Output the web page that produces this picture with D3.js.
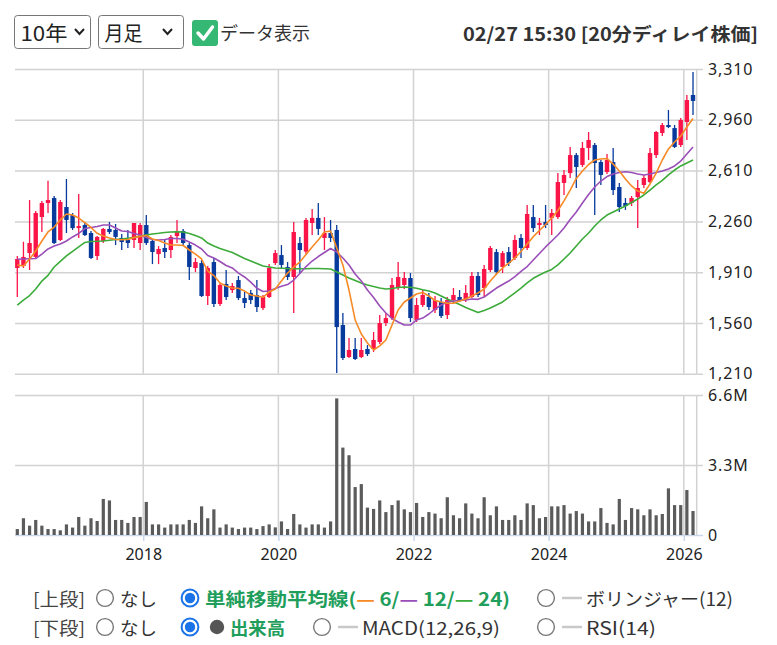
<!DOCTYPE html>
<html>
<head>
<meta charset="utf-8">
<script src="https://cdn.jsdelivr.net/npm/d3@7.9.0/dist/d3.min.js"></script>
<style>
  html, body { margin: 0; padding: 0; background: #fff; }
  svg { display: block; font-family: "Noto Sans CJK JP", "Noto Sans", sans-serif; }
</style>
</head>
<body>
<svg id="chart" width="777" height="645"></svg>
<script>
// monthly bars, oldest first (index 0 .. 110)
const opens = [1939,1953,2042,2015,2290,2387,2421,2132,2359,2304, 2214,2235,2180,2022,2125,2208,2201,2146,2132,2132,
  2111,2235,2125,2035,2077,2063,2159,2194,2097,1939, 1973,1746,1980,1691,1829,1787,1856,1732,1767,1753,
  1663,1739,1973,2028,1946,1877,2111,2052,2249,2284, 2146,2180,2201,1546,1326,1381,1326,1381,1381,1429,
  1560,1594,1808,1822,1870,1581,1684,1739,1650,1705, 1615,1718,1739,1718,1739,1884,1801,1925,2049,1946,
  2049,2008,2146,2077,2290,2235,2256,2284,2290,2525, 2593,2717,2649,2766,2786,2669,2600,2669,2497,2387,
  2387,2428,2511,2531,2717,2869,2924,2903,2786,2945, 3131];
const highs = [2022,2120,2407,2332,2400,2540,2435,2407,2552,2318, 2449,2249,2194,2159,2214,2256,2242,2173,2201,2249,
  2249,2304,2132,2090,2132,2166,2270,2208,2111,2008, 1994,1953,2008,1836,1925,1836,1884,1774,1787,1856,
  1753,1966,2063,2097,1980,2256,2153,2284,2346,2387, 2290,2270,2235,1629,1457,1457,1457,1408,1498,1615,
  1629,1870,1980,1911,1904,1732,1787,1767,1746,1732, 1739,1801,1787,1822,1911,1911,1960,2090,2070,2056,
  2084,2166,2173,2373,2373,2284,2373,2346,2593,2614, 2773,2731,2807,2876,2800,2683,2724,2766,2525,2421,
  2435,2545,2580,2766,2883,2938,3028,2924,2972,3131, 3289];
const lows = [1739,1939,1925,2008,2187,2318,2104,2125,2180,2201, 2146,2159,2001,1994,2111,2173,2097,2063,2077,2077,
  2063,2097,1966,1966,2008,2008,2111,2097,1856,1911, 1739,1684,1670,1677,1718,1767,1718,1663,1691,1636,
  1650,1732,1960,1939,1856,1629,1904,2035,2166,2166, 2063,2118,1215,1305,1319,1305,1319,1333,1360,1415,
  1539,1581,1787,1794,1567,1567,1670,1650,1629,1594, 1587,1698,1705,1705,1732,1739,1739,1911,1891,1904,
  1953,1994,2008,2063,2187,2166,2214,2166,2277,2442, 2559,2490,2635,2683,2304,2511,2587,2442,2325,2339,
  2366,2214,2490,2525,2697,2848,2903,2766,2773,2821, 2993];
const closes = [2001,2015,2111,2318,2387,2407,2111,2394,2270,2214, 2228,2166,2008,2153,2208,2187,2153,2118,2111,2249,
  2235,2111,2049,2070,2049,2153,2194,2111,1946,1980, 1746,1939,1691,1822,1739,1815,1732,1698,1718,1670,
  1739,1939,2042,1960,1877,2187,2063,2270,2284,2208, 2180,2146,1532,1319,1374,1312,1374,1346,1443,1560,
  1594,1822,1877,1870,1594,1684,1753,1670,1718,1608, 1718,1753,1718,1767,1884,1753,1932,2077,1911,2042,
  1973,2132,2077,2311,2214,2249,2235,2318,2531,2580, 2717,2635,2766,2821,2662,2580,2683,2476,2359,2366,
  2421,2490,2559,2731,2876,2924,2910,2773,2959,3096, 3090];
// volume in millions of shares
const volumes = [0.28,0.79,0.44,0.71,0.44,0.28,0.28,0.22,0.50,0.35, 0.85,0.44,0.79,0.66,1.70,1.63,0.71,0.71,0.57,0.85,
  0.85,1.56,0.50,0.50,0.35,0.50,0.50,0.50,0.71,0.57, 1.35,0.79,1.21,0.35,0.50,0.35,0.28,0.35,0.35,0.28,
  0.42,0.50,0.36,0.64,0.28,0.99,0.50,0.35,0.50,0.50, 0.35,0.64,6.44,4.12,3.76,2.26,2.40,1.29,1.23,1.63,
  1.08,1.41,1.63,1.21,1.08,1.51,0.85,1.08,1.01,0.79, 1.78,0.93,0.79,1.49,1.01,0.79,1.78,0.93,1.35,0.71,
  0.71,0.93,0.71,1.49,1.41,0.79,0.85,1.35,1.35,1.41, 1.01,1.13,1.01,0.64,0.64,1.27,0.57,0.50,1.70,0.71,
  1.27,1.21,0.93,1.21,0.93,0.99,2.20,1.41,1.41,2.12, 1.13];
// moving averages
const ma6 = [1960,1953,2001,2056,2125,2187,2221,2270,2311,2304, 2283,2252,2218,2178,2159,2146,2135,2134,2135,2149,
  2157,2163,2139,2128,2111,2097,2097,2094,2063,2035, 2001,1918,1887,1836,1815,1801,1799,1780,1753,1746,
  1737,1774,1794,1849,1904,1946,1980,2032,2084,2132, 2187,2194,2077,1960,1787,1581,1484,1422,1374,1402,
  1443,1546,1650,1705,1732,1760,1770,1746,1715,1705, 1696,1696,1712,1725,1746,1767,1794,1849,1898,1939,
  1973,2008,2053,2104,2155,2197,2239,2283,2335,2401, 2476,2556,2607,2652,2683,2690,2693,2655,2607,2552,
  2504,2469,2454,2518,2593,2683,2759,2807,2848,2910, 2969];
const ma12 = [1999,2001,2003,2004,2035,2070,2091,2104,2125,2153, 2177,2211,2218,2225,2235,2235,2215,2194,2190,2177,
  2166,2149,2135,2132,2135,2142,2142,2137,2118,2097, 2070,2025,2008,1984,1956,1939,1904,1877,1842,1799,
  1777,1780,1798,1813,1825,1856,1901,1949,1987,2018, 2046,2073,2049,2008,1960,1898,1849,1787,1736,1677,
  1629,1591,1567,1546,1546,1581,1594,1622,1656,1684, 1705,1712,1715,1718,1725,1723,1739,1770,1801,1825,
  1849,1880,1915,1949,1994,2039,2084,2125,2166,2215, 2273,2325,2387,2445,2497,2538,2569,2587,2597,2602,
  2597,2587,2580,2587,2597,2607,2621,2642,2676,2724, 2773];
const ma24 = [1684,1718,1749,1794,1849,1888,1946,1984,2022,2053, 2084,2115,2122,2123,2125,2130,2135,2139,2144,2149,
  2159,2166,2173,2178,2184,2187,2189,2187,2177,2163, 2146,2111,2091,2073,2060,2046,2025,2004,1987,1970,
  1953,1946,1939,1937,1935,1934,1934,1934,1935,1935, 1934,1932,1911,1891,1870,1853,1836,1822,1811,1801,
  1794,1798,1805,1808,1806,1799,1789,1780,1767,1746, 1725,1707,1687,1667,1650,1632,1646,1663,1684,1705,
  1736,1767,1801,1836,1868,1891,1911,1929,1960,2001, 2042,2091,2139,2180,2228,2270,2304,2325,2345,2366,
  2390,2414,2442,2476,2511,2542,2580,2614,2642,2662, 2683];

const yearLabels = ['2018', '2020', '2022', '2024', '2026'];
const yearStarts = [20.5, 42.5, 64.5, 86.5, 108.5]; // bar-index boundary where each year begins
const priceTicks = [1210, 1560, 1910, 2260, 2610, 2960, 3310];
const volumeTicks = [0, 3.3, 6.6];
const volumeTickLabels = ['0', '3.3M', '6.6M'];

const UP = '#fa1448';
const DOWN = '#063a9c';
const GRID = '#d2d2d2';
const GREEN_TEXT = '#1f9e5c';

const svg = d3.select('#chart');

const plotLeft = 15;
const plotRight = 696.7;
const gridEnd = 703;
const priceTop = 69;
const priceBottom = 373.8;
const volTop = 395;
const volBottom = 535;

const x = d3.scaleLinear().domain([-0.374, 110.6]).range([plotLeft, plotRight]);
const y = d3.scaleLinear().domain([1210, 3310]).range([priceBottom, priceTop]);
const yv = d3.scaleLinear().domain([0, 6.6]).range([volBottom, volTop]);

function styleAxisText(a) {
  a.selectAll('text')
    .attr('font-family', 'Noto Sans')
    .attr('font-size', 16)
    .attr('letter-spacing', 0.9)
    .attr('fill', '#222');
}

function drawToolbar() {
  const g = svg.append('g');
  const selects = [
    { x: 14.5, w: 76, label: '10年', chev: 75, len: 47 },
    { x: 98.5, w: 85, label: '月足', chev: 163, len: 38 },
  ];
  selects.forEach((s) => {
    g.append('rect')
      .attr('x', s.x).attr('y', 15.5).attr('width', s.w).attr('height', 33)
      .attr('rx', 3).attr('fill', '#fff').attr('stroke', '#767676');
    g.append('text')
      .attr('x', s.x + 6).attr('y', 32).attr('dominant-baseline', 'central')
      .attr('font-size', 20).attr('fill', '#222')
      .attr('textLength', s.len).attr('lengthAdjust', 'spacingAndGlyphs')
      .text(s.label);
    g.append('path')
      .attr('d', `M${s.chev},29 L${s.chev + 4.5},34 L${s.chev + 9},29`)
      .attr('fill', 'none').attr('stroke', '#222').attr('stroke-width', 2);
  });

  g.append('rect')
    .attr('x', 192).attr('y', 20).attr('width', 26).attr('height', 26)
    .attr('rx', 3).attr('fill', '#34b874');
  g.append('path')
    .attr('d', 'M198,33 L203.5,39 L212.5,27')
    .attr('fill', 'none').attr('stroke', '#fff').attr('stroke-width', 3.5)
    .attr('stroke-linecap', 'round').attr('stroke-linejoin', 'round');
  g.append('text')
    .attr('x', 220).attr('y', 32).attr('dominant-baseline', 'central')
    .attr('font-size', 18).attr('fill', '#333').text('データ表示');

  g.append('text')
    .attr('x', 758).attr('y', 33).attr('dominant-baseline', 'central')
    .attr('text-anchor', 'end').attr('font-size', 18).attr('font-weight', 700)
    .attr('fill', '#333')
    .attr('textLength', 295).attr('lengthAdjust', 'spacingAndGlyphs')
    .text('02/27 15:30 [20分ディレイ株価]');
}

function drawPricePanel() {
  const g = svg.append('g');

  // horizontal gridlines + right labels
  g.append('g')
    .attr('transform', `translate(${gridEnd},0)`)
    .call(d3.axisRight(y).tickValues(priceTicks).tickSize(-(gridEnd - plotLeft))
      .tickPadding(5).tickFormat(d3.format(',')))
    .call((a) => a.select('.domain').remove())
    .call((a) => a.selectAll('line').attr('stroke', GRID).attr('stroke-width', 1.5))
    .call(styleAxisText);

  // vertical year gridlines
  g.append('g')
    .selectAll('line')
    .data(yearStarts)
    .join('line')
    .attr('x1', (d) => x(d)).attr('x2', (d) => x(d))
    .attr('y1', priceTop).attr('y2', priceBottom)
    .attr('stroke', GRID).attr('stroke-width', 1.5);

  g.append('line')
    .attr('x1', plotRight).attr('x2', plotRight)
    .attr('y1', priceTop).attr('y2', priceBottom)
    .attr('stroke', GRID).attr('stroke-width', 1.5);

  const bars = opens.map((o, i) => ({ i, o, h: highs[i], l: lows[i], c: closes[i] }));
  const color = (d) => (d.c >= d.o ? UP : DOWN);

  const candles = g.append('g').selectAll('g').data(bars).join('g');
  candles.append('line')
    .attr('x1', (d) => x(d.i)).attr('x2', (d) => x(d.i))
    .attr('y1', (d) => y(d.h)).attr('y2', (d) => y(d.l))
    .attr('stroke', color).attr('stroke-width', 1.3);
  candles.append('rect')
    .attr('x', (d) => x(d.i) - 2.2)
    .attr('y', (d) => y(Math.max(d.o, d.c)))
    .attr('width', 4.4)
    .attr('height', (d) => Math.max(1.5, y(Math.min(d.o, d.c)) - y(Math.max(d.o, d.c))))
    .attr('fill', color);

  svg.append('clipPath').attr('id', 'price-clip')
    .append('rect').attr('x', plotLeft).attr('y', priceTop)
    .attr('width', plotRight - plotLeft).attr('height', priceBottom - priceTop);

  const line = d3.line().x((d, i) => x(i)).y((d) => y(d));
  const lines = g.append('g').attr('clip-path', 'url(#price-clip)');
  [[ma24, '#3cab3a'], [ma12, '#9a4fb8'], [ma6, '#f68a26']].forEach(([values, stroke]) => {
    lines.append('path')
      .attr('d', line(values))
      .attr('fill', 'none').attr('stroke', stroke).attr('stroke-width', 1.6)
      .attr('stroke-linejoin', 'round');
  });
}

function drawVolumePanel() {
  const g = svg.append('g');

  g.append('g')
    .attr('transform', `translate(${gridEnd},0)`)
    .call(d3.axisRight(yv).tickValues(volumeTicks).tickSize(-(gridEnd - plotLeft))
      .tickPadding(5).tickFormat((d, i) => volumeTickLabels[i]))
    .call((a) => a.select('.domain').remove())
    .call((a) => a.selectAll('line').attr('stroke', (d) => (d === 0 ? '#c9d7ec' : GRID)).attr('stroke-width', 1.5))
    .call(styleAxisText);

  g.append('g')
    .selectAll('line')
    .data(yearStarts)
    .join('line')
    .attr('x1', (d) => x(d)).attr('x2', (d) => x(d))
    .attr('y1', volTop).attr('y2', volBottom)
    .attr('stroke', GRID).attr('stroke-width', 1.5);

  g.append('line')
    .attr('x1', plotRight).attr('x2', plotRight)
    .attr('y1', volTop).attr('y2', volBottom)
    .attr('stroke', GRID).attr('stroke-width', 1.5);

  g.append('g')
    .selectAll('rect')
    .data(volumes)
    .join('rect')
    .attr('x', (d, i) => x(i) - 1.6)
    .attr('y', (d) => yv(d))
    .attr('width', 3.2)
    .attr('height', (d) => yv(0) - yv(d))
    .attr('fill', '#5b5b5b');

  g.append('g')
    .attr('transform', `translate(0,${volBottom})`)
    .call(d3.axisBottom(x).tickValues(yearStarts).tickSize(6).tickPadding(8)
      .tickFormat((d, i) => yearLabels[i]))
    .call((a) => a.select('.domain').remove())
    .call((a) => a.selectAll('line').attr('stroke', '#c9d7ec').attr('stroke-width', 1.5))
    .call(styleAxisText)
    .call((a) => a.selectAll('text').attr('letter-spacing', 0));
}

function radio(g, cx, cy, selected) {
  if (selected) {
    g.append('circle').attr('cx', cx).attr('cy', cy).attr('r', 8.4)
      .attr('fill', '#fff').attr('stroke', '#1a73e8').attr('stroke-width', 2);
    g.append('circle').attr('cx', cx).attr('cy', cy).attr('r', 5.2).attr('fill', '#1a73e8');
  } else {
    g.append('circle').attr('cx', cx).attr('cy', cy).attr('r', 8.4)
      .attr('fill', '#fff').attr('stroke', '#777').attr('stroke-width', 1.4);
  }
}

// width: measured span in the original, stretched to fit with textLength
function label(g, xPos, yPos, text, opts = {}) {
  const t = g.append('text')
    .attr('x', xPos).attr('y', yPos).attr('dominant-baseline', 'central')
    .attr('font-size', opts.size || 18)
    .attr('font-weight', opts.bold ? 700 : 400)
    .attr('fill', opts.fill || '#333')
    .text(text);
  if (opts.width) t.attr('textLength', opts.width).attr('lengthAdjust', 'spacingAndGlyphs');
  return t;
}

function grayDash(g, x1, yPos) {
  g.append('line').attr('x1', x1).attr('x2', x1 + 20).attr('y1', yPos).attr('y2', yPos)
    .attr('stroke', '#c8c8c8').attr('stroke-width', 2.5);
}

function drawLegend() {
  const g = svg.append('g');
  const r1 = 598;
  const r2 = 627;

  label(g, 33, r1, '[上段]', { fill: '#444', width: 52 });
  radio(g, 105, r1, false);
  label(g, 120, r1, 'なし', { width: 37 });
  radio(g, 190, r1, true);
  const ma = label(g, 205, r1, '', { bold: true, fill: GREEN_TEXT, width: 305 });
  ma.append('tspan').text('単純移動平均線(');
  ma.append('tspan').attr('fill', '#f68a26').text('—');
  ma.append('tspan').text(' 6/');
  ma.append('tspan').attr('fill', '#9a4fb8').text('—');
  ma.append('tspan').text(' 12/');
  ma.append('tspan').attr('fill', '#3cab3a').text('—');
  ma.append('tspan').text(' 24)');
  radio(g, 546, r1, false);
  grayDash(g, 562, r1);
  label(g, 586, r1, 'ボリンジャー(12)', { width: 147 });

  label(g, 33, r2, '[下段]', { fill: '#444', width: 52 });
  radio(g, 105, r2, false);
  label(g, 120, r2, 'なし', { width: 37 });
  radio(g, 190, r2, true);
  g.append('circle').attr('cx', 217).attr('cy', r2).attr('r', 7.2).attr('fill', '#555');
  label(g, 230, r2, '出来高', { bold: true, fill: GREEN_TEXT, width: 55 });
  radio(g, 322, r2, false);
  grayDash(g, 338, r2);
  label(g, 362, r2, 'MACD(12,26,9)', { width: 138 });
  radio(g, 546, r2, false);
  grayDash(g, 562, r2);
  label(g, 586, r2, 'RSI(14)', { width: 70 });
}

drawToolbar();
drawPricePanel();
drawVolumePanel();
drawLegend();
</script>
</body>
</html>
